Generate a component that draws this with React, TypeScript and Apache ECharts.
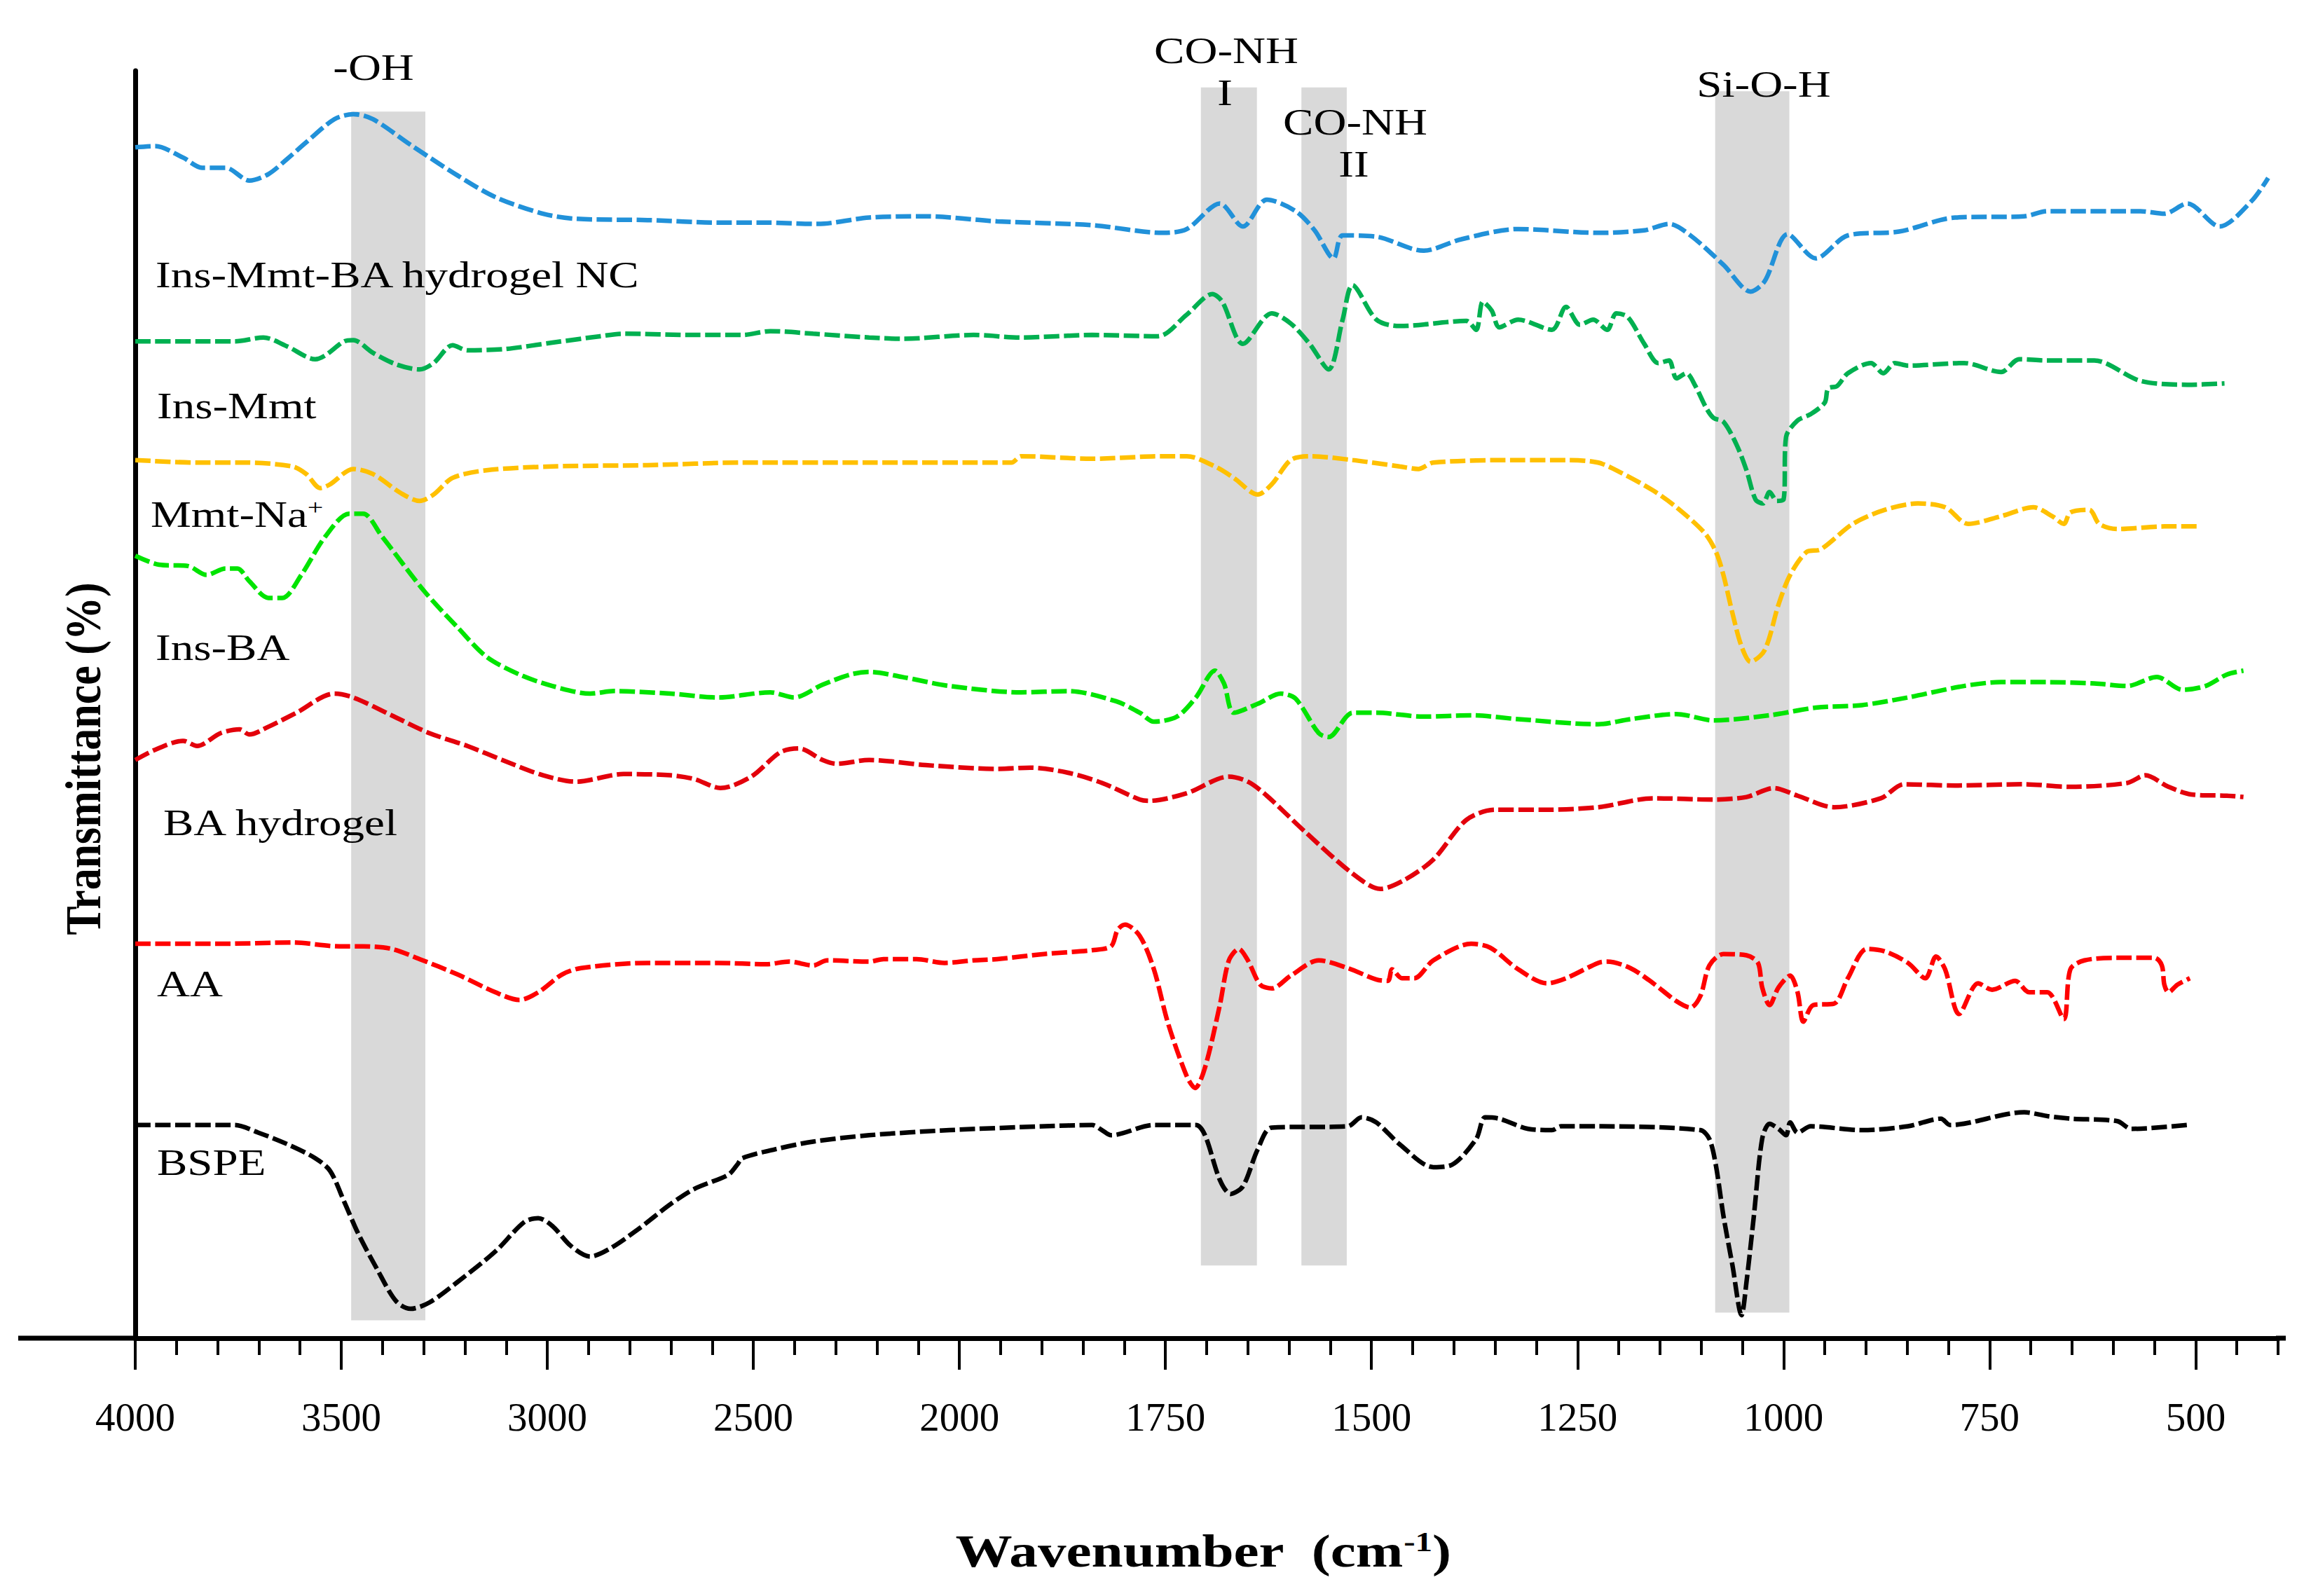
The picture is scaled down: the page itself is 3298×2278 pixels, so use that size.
import React, { useEffect, useRef } from "react";
import * as echarts from "echarts";

// [wavenumber cm-1, offset transmittance], top to bottom
const insMmtBaNc: [number, number][] = [
  [4000, 94.0], [3952, 94.1], [3884, 93.2], [3838, 92.4], [3781, 92.4], [3723, 91.4], [3677, 91.9],
  [3631, 93.1], [3585, 94.4], [3517, 96.2], [3471, 96.6], [3423, 96.2], [3332, 94.2], [3218, 91.8],
  [3126, 90.1], [3010, 88.8], [2930, 88.4], [2757, 88.3], [2585, 88.1], [2469, 88.1], [2344, 88.0],
  [2219, 88.5], [2082, 88.6], [1954, 88.2], [1839, 87.9], [1753, 87.3], [1724, 87.6], [1684, 89.6],
  [1656, 87.8], [1627, 89.9], [1592, 89.0], [1569, 87.5], [1546, 85.3], [1535, 87.1], [1494, 87.0],
  [1437, 85.9], [1391, 86.8], [1322, 87.6], [1225, 87.3], [1169, 87.5], [1139, 88.0], [1113, 87.1],
  [1073, 84.8], [1040, 82.7], [1023, 83.5], [995, 87.2], [961, 85.3], [922, 87.1], [860, 87.4],
  [792, 88.5], [708, 88.6], [680, 89.0], [567, 89.0], [538, 88.8], [510, 89.6], [471, 87.8],
  [432, 89.8], [412, 91.6],
];

const insMmt: [number, number][] = [
  [4000, 78.8], [3850, 78.8], [3759, 78.8], [3689, 79.1], [3631, 78.4], [3563, 77.4], [3539, 77.7],
  [3493, 78.8], [3471, 78.9], [3423, 77.9], [3367, 77.0], [3310, 76.6], [3276, 77.1], [3230, 78.5],
  [3194, 78.1], [3102, 78.2], [2988, 78.7], [2872, 79.2], [2815, 79.4], [2643, 79.3], [2527, 79.3],
  [2459, 79.6], [2355, 79.4], [2219, 79.1], [2138, 79.0], [1983, 79.3], [1925, 79.1], [1839, 79.3],
  [1759, 79.2], [1724, 80.9], [1693, 82.5], [1681, 81.9], [1656, 78.6], [1621, 81.0], [1598, 80.2],
  [1575, 78.6], [1552, 76.6], [1535, 80.5], [1523, 83.2], [1494, 80.5], [1466, 80.0], [1385, 80.4],
  [1373, 79.7], [1365, 81.9], [1354, 81.2], [1345, 79.9], [1322, 80.5], [1281, 79.7], [1264, 81.5],
  [1247, 80.1], [1231, 80.5], [1214, 79.7], [1203, 81.0], [1189, 80.7], [1169, 78.6], [1152, 77.1],
  [1139, 77.3], [1130, 75.9], [1118, 76.3], [1107, 75.3], [1094, 73.6], [1085, 72.8], [1073, 72.5],
  [1057, 70.7], [1045, 68.7], [1034, 66.4], [1025, 66.1], [1017, 67.0], [1008, 66.3], [1000, 66.4],
  [997, 71.3], [983, 72.6], [967, 73.1], [950, 74.0], [946, 75.1], [935, 75.3], [922, 76.3],
  [894, 77.1], [879, 76.3], [865, 77.1], [849, 76.9], [781, 77.1], [736, 76.4], [714, 77.4],
  [680, 77.3], [623, 77.3], [567, 75.7], [510, 75.4], [465, 75.5],
];

const mmtNa: [number, number][] = [
  [4000, 69.5], [3850, 69.3], [3735, 69.3], [3619, 69.0], [3585, 68.4], [3551, 67.3], [3527, 67.6],
  [3471, 68.8], [3423, 68.4], [3355, 66.9], [3310, 66.3], [3276, 66.8], [3230, 68.1], [3148, 68.7],
  [2988, 69.0], [2757, 69.1], [2527, 69.3], [2219, 69.3], [1937, 69.3], [1925, 69.8], [1839, 69.6],
  [1753, 69.8], [1724, 69.8], [1690, 69.0], [1667, 68.1], [1638, 66.8], [1621, 67.6], [1598, 69.5],
  [1575, 69.8], [1523, 69.5], [1466, 69.0], [1443, 68.8], [1425, 69.3], [1322, 69.5], [1264, 69.5],
  [1225, 69.3], [1197, 68.5], [1158, 67.1], [1130, 65.8], [1096, 63.8], [1082, 62.3], [1073, 60.5],
  [1062, 57.5], [1051, 54.9], [1040, 53.7], [1023, 54.6], [1006, 58.2], [992, 60.5], [972, 62.3],
  [955, 62.5], [916, 64.5], [877, 65.6], [837, 66.1], [804, 65.8], [776, 64.5], [736, 65.1],
  [697, 65.8], [674, 65.1], [660, 64.5], [652, 65.4], [629, 65.6], [617, 64.5], [595, 64.1],
  [538, 64.3], [494, 64.3],
];

const insBa: [number, number][] = [
  [4000, 62.0], [3942, 61.3], [3872, 61.2], [3827, 60.5], [3781, 61.0], [3752, 61.0], [3723, 60.0],
  [3677, 58.7], [3643, 58.7], [3597, 60.5], [3539, 63.5], [3481, 65.3], [3447, 65.3], [3401, 63.5],
  [3298, 59.2], [3218, 56.4], [3148, 54.1], [3068, 52.7], [2988, 51.8], [2896, 51.2], [2838, 51.4],
  [2701, 51.2], [2585, 50.9], [2459, 51.3], [2401, 50.9], [2332, 51.9], [2264, 52.7], [2219, 52.9],
  [2138, 52.5], [2024, 51.8], [1925, 51.3], [1868, 51.4], [1810, 50.6], [1781, 49.7], [1764, 49.0],
  [1736, 49.4], [1713, 50.9], [1690, 53.0], [1679, 52.0], [1667, 49.7], [1638, 50.4], [1610, 51.2],
  [1592, 50.8], [1564, 48.1], [1552, 47.8], [1523, 49.7], [1494, 49.7], [1437, 49.4], [1379, 49.5],
  [1322, 49.2], [1225, 48.8], [1186, 49.2], [1130, 49.6], [1085, 49.1], [1017, 49.5], [961, 50.1],
  [905, 50.3], [849, 50.9], [781, 51.8], [736, 52.1], [680, 52.1], [623, 52.0], [583, 51.8],
  [547, 52.5], [516, 51.5], [488, 51.8], [462, 52.7], [442, 53.0],
];

const baHydrogel: [number, number][] = [
  [4000, 46.0], [3952, 46.8], [3884, 47.5], [3850, 47.1], [3793, 48.1], [3747, 48.4], [3723, 48.0],
  [3677, 48.6], [3609, 49.7], [3517, 51.2], [3471, 50.9], [3378, 49.5], [3286, 48.1], [3194, 47.1],
  [3102, 45.9], [3010, 44.8], [2930, 44.3], [2815, 44.9], [2701, 44.8], [2643, 44.5], [2580, 43.8],
  [2505, 44.7], [2435, 46.6], [2389, 46.9], [2332, 46.0], [2298, 45.7], [2219, 46.0], [2082, 45.6],
  [1954, 45.3], [1914, 45.4], [1868, 45.0], [1827, 44.2], [1781, 42.9], [1770, 42.8], [1724, 43.4],
  [1673, 44.7], [1650, 44.3], [1627, 43.2], [1581, 40.4], [1523, 37.1], [1489, 35.9], [1460, 36.6],
  [1425, 38.2], [1385, 41.3], [1350, 42.1], [1293, 42.1], [1225, 42.3], [1158, 43.0], [1085, 42.9],
  [1045, 43.1], [1012, 43.8], [983, 43.2], [939, 42.3], [882, 43.0], [854, 44.1], [792, 44.0],
  [708, 44.1], [652, 43.9], [583, 44.2], [561, 44.8], [533, 43.9], [505, 43.3], [462, 43.2],
  [442, 43.1],
];

const aa: [number, number][] = [
  [4000, 31.6], [3793, 31.6], [3619, 31.7], [3505, 31.4], [3447, 31.4], [3378, 31.2], [3310, 30.4],
  [3218, 29.2], [3126, 27.8], [3068, 27.2], [3022, 27.8], [2964, 29.2], [2918, 29.7], [2757, 30.1],
  [2585, 30.1], [2469, 30.0], [2413, 30.2], [2355, 29.9], [2321, 30.3], [2219, 30.2], [2184, 30.4],
  [2104, 30.4], [2036, 30.1], [1983, 30.3], [1954, 30.4], [1897, 30.8], [1839, 31.1], [1816, 31.4],
  [1808, 32.7], [1799, 33.1], [1781, 32.2], [1764, 29.6], [1747, 25.4], [1724, 21.2], [1714, 20.3],
  [1702, 21.9], [1684, 26.8], [1673, 30.3], [1661, 31.2], [1650, 30.3], [1635, 28.4], [1621, 28.1],
  [1598, 29.1], [1564, 30.3], [1529, 29.7], [1494, 28.8], [1480, 28.7], [1475, 29.6], [1463, 28.9],
  [1448, 28.9], [1425, 30.3], [1379, 31.6], [1356, 31.3], [1322, 29.6], [1287, 28.5], [1264, 28.9],
  [1225, 30.1], [1214, 30.2], [1186, 29.7], [1158, 28.5], [1130, 27.1], [1113, 26.6], [1101, 27.5],
  [1090, 29.9], [1073, 30.8], [1045, 30.7], [1031, 30.1], [1026, 28.2], [1017, 26.8], [1006, 28.2],
  [992, 29.1], [983, 27.8], [976, 25.5], [964, 26.8], [939, 26.9], [922, 28.9], [899, 31.2],
  [877, 31.0], [849, 30.1], [828, 28.9], [815, 30.6], [804, 29.6], [787, 26.1], [764, 28.5],
  [747, 28.0], [719, 28.7], [702, 27.8], [680, 27.8], [660, 25.7], [652, 29.6], [635, 30.3],
  [595, 30.5], [550, 30.5], [541, 29.9], [538, 28.4], [533, 27.8], [522, 28.4], [507, 28.9],
];

const bspe: [number, number][] = [
  [4000, 17.4], [3759, 17.4], [3701, 16.8], [3631, 15.9], [3563, 14.8], [3527, 13.8], [3493, 11.4],
  [3459, 8.9], [3413, 6.1], [3367, 3.6], [3332, 3.0], [3286, 3.5], [3218, 5.1], [3126, 7.5],
  [3056, 9.8], [3022, 10.1], [2988, 9.5], [2942, 7.9], [2896, 7.1], [2849, 7.7], [2781, 9.2],
  [2701, 11.2], [2643, 12.4], [2561, 13.5], [2539, 14.3], [2527, 14.8], [2447, 15.5], [2355, 16.1],
  [2219, 16.6], [2024, 17.0], [1897, 17.3], [1839, 17.4], [1827, 17.0], [1816, 16.6], [1764, 17.4],
  [1713, 17.4], [1702, 16.6], [1684, 13.1], [1671, 12.0], [1656, 12.6], [1638, 15.5], [1621, 17.2],
  [1529, 17.3], [1512, 18.0], [1494, 17.6], [1466, 15.9], [1425, 14.1], [1402, 14.3], [1373, 16.3],
  [1362, 18.0], [1345, 17.9], [1310, 17.1], [1281, 17.0], [1270, 17.3], [1225, 17.3], [1101, 17.0],
  [1090, 16.3], [1082, 14.2], [1073, 10.3], [1062, 6.4], [1051, 2.5], [1045, 5.1], [1036, 10.3],
  [1026, 16.3], [1017, 17.5], [1006, 17.1], [997, 16.6], [992, 17.6], [983, 16.8], [967, 17.3],
  [905, 17.0], [849, 17.3], [809, 17.9], [798, 17.4], [708, 18.4], [680, 18.1], [652, 17.9],
  [595, 17.7], [578, 17.1], [510, 17.4],
];

const seriesNames = ["Ins-Mmt-BA hydrogel NC", "Ins-Mmt", "Mmt-Na+", "Ins-BA", "BA hydrogel", "AA", "BSPE"];
const seriesData = [insMmtBaNc, insMmt, mmtNa, insBa, baHydrogel, aa, bspe];
const seriesColors = ["#2191d9", "#00b050", "#ffc000", "#00e400", "#e3000b", "#ff0000", "#000000"];

// shaded assignment bands
const bandLabels = ["-OH", "CO-NH I", "CO-NH II", "Si-O-H"];
const bandFrom = [3476, 1707, 1585, 1083];
const bandTo = [3296, 1639, 1530, 993];
const bandBottom = [2.1, 6.4, 6.4, 2.7];
const bandTop = [96.8, 98.7, 98.7, 98.4];

const tickLabels = [4000, 3500, 3000, 2500, 2000, 1750, 1500, 1250, 1000, 750, 500];

// split wavenumber axis: 500 cm-1 per step above 2000, 250 per step below
const toAxis = (w: number) => (w >= 2000 ? (4000 - w) / 500 : 4 + (2000 - w) / 250);
const fromAxis = (t: number) => (t <= 4 ? 4000 - 500 * t : 2000 - 250 * (t - 4));

const SERIF = '"Liberation Serif", "Times New Roman", serif';

const label = (text: string, x: number, y: number, align = "left") => ({
  type: "text",
  x,
  y,
  z: 100,
  scaleX: 1.25,
  style: {
    text,
    fill: "#000",
    fontSize: 52,
    fontFamily: SERIF,
    textAlign: align,
    textVerticalAlign: "middle",
  },
});

const App = () => {
  const chartRef = useRef<HTMLDivElement>(null);

  useEffect(() => {
    document.body.style.margin = "0";
    const dom = chartRef.current;
    if (!dom) return;
    const chart = echarts.init(dom, null, { renderer: "svg" });

    const xMax = toAxis(400);

    const option: any = {
      animation: false,
      backgroundColor: "#fff",
      textStyle: { fontFamily: SERIF, color: "#000" },
      grid: { left: 193, right: 47, top: 101, bottom: 368, containLabel: false },
      xAxis: [
        {
          type: "value",
          min: 0,
          max: xMax,
          interval: 1,
          position: "bottom",
          axisLine: { show: true, onZero: false, lineStyle: { color: "#000", width: 7 } },
          axisTick: { show: true, length: 45, lineStyle: { color: "#000", width: 4 } },
          splitLine: { show: false },
          axisLabel: {
            show: true,
            margin: 84,
            color: "#000",
            fontSize: 57,
            fontFamily: SERIF,
            showMaxLabel: false,
            formatter: (v: number) => {
              const i = Math.round(v);
              if (Math.abs(v - i) > 1e-6 || i >= tickLabels.length) return "";
              return String(tickLabels[i] ?? fromAxis(i));
            },
          },
        },
        {
          type: "value",
          min: 0,
          max: xMax,
          interval: 0.2,
          position: "bottom",
          axisLine: { show: false, onZero: false },
          axisTick: { show: true, length: 24, lineStyle: { color: "#000", width: 4 } },
          splitLine: { show: false },
          axisLabel: { show: false },
        },
      ],
      yAxis: {
        type: "value",
        min: 0.7,
        max: 100,
        axisLine: { show: true, onZero: false, lineStyle: { color: "#000", width: 7 } },
        axisTick: { show: false },
        axisLabel: { show: false },
        splitLine: { show: false },
      },
      series: [
        {
          name: "bands",
          type: "line",
          data: [],
          z: 1,
          silent: true,
          markArea: {
            silent: true,
            itemStyle: { color: "#d9d9d9" },
            label: { show: false },
            data: bandLabels.map((n, i) => [
              { name: n, xAxis: toAxis(bandFrom[i]), yAxis: bandBottom[i] },
              { xAxis: toAxis(bandTo[i]), yAxis: bandTop[i] },
            ]),
          },
        },
        ...seriesData.map((d, i) => ({
          name: seriesNames[i],
          type: "line",
          z: 3,
          smooth: 0.3,
          symbol: "none",
          data: d.map(([w, v]) => [toAxis(w), v]),
          lineStyle: { color: seriesColors[i], width: 6.5, type: [22, 6.5], cap: "butt" },
        })),
      ],
      graphic: [
        // axis line runs past the y axis on the left
        { type: "line", z: 50, shape: { x1: 26, y1: 1910, x2: 195, y2: 1910 }, style: { stroke: "#000", lineWidth: 7 } },
        { type: "line", z: 50, shape: { x1: 3248, y1: 1910, x2: 3262, y2: 1910 }, style: { stroke: "#000", lineWidth: 7 } },
        label("-OH", 533, 97, "center"),
        label("CO-NH", 1750, 73, "center"),
        label("I", 1748, 133, "center"),
        label("CO-NH", 1934, 175, "center"),
        label("II", 1932, 235, "center"),
        label("Si-O-H", 2517, 121, "center"),
        label("Ins-Mmt-BA hydrogel NC", 222, 393),
        label("Ins-Mmt", 224, 580),
        {
          type: "text",
          x: 215,
          y: 735,
          z: 100,
          scaleX: 1.25,
          style: {
            text: "{a|Mmt-Na}{s|+}",
            textVerticalAlign: "middle",
            rich: {
              a: { fontSize: 52, fontFamily: SERIF, color: "#000" },
              s: { fontSize: 32, fontFamily: SERIF, color: "#000", verticalAlign: "top", padding: [0, 0, 22, 0] },
            },
          },
        },
        label("Ins-BA", 222, 925),
        label("BA hydrogel", 233, 1175),
        label("AA", 224, 1405),
        label("BSPE", 224, 1660),
        {
          type: "text",
          x: 118,
          y: 1083,
          z: 100,
          rotation: Math.PI / 2,
          scaleY: 1.15,
          style: {
            text: "Transmittance (%)",
            fill: "#000",
            fontSize: 62,
            fontWeight: "bold",
            fontFamily: SERIF,
            textAlign: "center",
            textVerticalAlign: "middle",
          },
        },
        {
          type: "text",
          x: 1717,
          y: 2214,
          z: 100,
          scaleX: 1.23,
          style: {
            text: "{a|Wavenumber  (cm}{s|-1}{a|)}",
            textAlign: "center",
            textVerticalAlign: "middle",
            rich: {
              a: { fontSize: 66, fontWeight: "bold", fontFamily: SERIF, color: "#000" },
              s: { fontSize: 40, fontWeight: "bold", fontFamily: SERIF, color: "#000", verticalAlign: "top", padding: [0, 0, 26, 0] },
            },
          },
        },
      ],
    };

    chart.setOption(option);

    return () => {
      chart.dispose();
    };
  }, []);

  return <div ref={chartRef} style={{ width: "3298px", height: "2278px" }} />;
};

export default App;
